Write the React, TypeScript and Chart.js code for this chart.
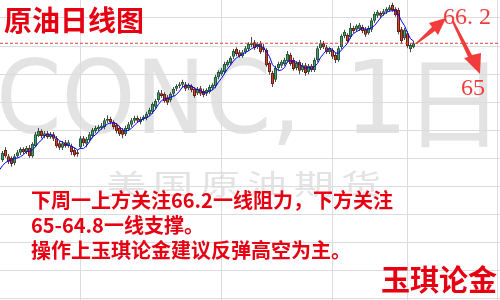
import React, { useEffect, useRef } from "react";
import { Chart, registerables } from "chart.js";

Chart.register(...registerables);

// Daily crude oil (CONC) candles, oldest first
const opens = [
  44.7, 46.5, 45.4, 45.1, 44.2, 45.4, 46.0, 46.7, 46.1, 46.9,
  45.4, 47.2, 49.0, 49.9, 49.0, 49.5, 48.8, 49.3, 48.6, 47.7,
  46.9, 47.9, 47.2, 47.2, 46.5, 46.1, 47.0, 48.6, 47.6, 48.3,
  49.0, 49.9, 50.2, 50.4, 50.6, 51.7, 52.0, 51.5, 51.0, 50.4,
  50.1, 49.3, 50.2, 51.0, 51.7, 52.2, 51.5, 52.0, 52.2, 52.9,
  53.3, 54.2, 55.4, 56.6, 56.5, 55.9, 55.4, 56.5, 57.4, 57.9,
  58.1, 58.2, 57.5, 57.9, 57.4, 56.6, 57.5, 57.0, 56.5, 56.8,
  57.5, 57.9, 59.5, 60.0, 60.4, 61.6, 62.0, 63.1, 64.5, 63.9,
  63.2, 63.9, 64.5, 65.2, 65.7, 64.8, 65.5, 64.8, 64.3, 62.0,
  60.2, 59.0, 61.1, 61.5, 61.8, 62.3, 63.4, 62.5, 61.1, 62.2,
  60.7, 61.6, 60.4, 61.5, 60.7, 62.5, 64.6, 65.5, 64.8, 63.9,
  64.3, 63.4, 62.5, 64.8, 66.8, 67.0, 66.6, 68.2, 67.9, 68.0,
  68.4, 68.0, 67.3, 67.9, 69.5, 70.4, 70.9, 70.7, 71.1, 71.4,
  72.3, 71.6, 71.4, 68.0, 66.4, 67.3, 64.5, 64.8,
];
const highs = [
  46.3, 47.0, 45.8, 45.4, 45.8, 46.5, 47.0, 47.0, 47.2, 47.4,
  47.9, 49.7, 50.4, 50.2, 49.9, 49.9, 49.7, 49.7, 49.0, 48.1,
  48.1, 48.3, 48.3, 47.6, 46.9, 46.5, 49.0, 49.0, 48.8, 49.7,
  50.4, 50.8, 51.0, 51.3, 52.2, 52.7, 52.4, 51.8, 51.3, 50.8,
  50.4, 50.8, 51.5, 52.2, 52.6, 52.6, 52.4, 52.7, 53.3, 54.0,
  55.0, 55.6, 57.2, 57.2, 56.8, 56.3, 56.8, 57.7, 58.2, 58.6,
  59.0, 58.6, 58.4, 58.2, 57.7, 57.7, 57.9, 57.4, 57.5, 58.1,
  58.4, 59.9, 60.7, 61.1, 62.2, 62.5, 63.2, 64.5, 64.8, 64.3,
  64.3, 65.0, 65.7, 66.6, 66.1, 65.7, 65.9, 65.4, 64.6, 62.3,
  60.6, 61.5, 62.2, 62.5, 62.9, 64.1, 63.8, 62.9, 62.3, 62.5,
  62.0, 62.0, 61.8, 61.8, 62.9, 65.0, 66.1, 65.9, 65.2, 64.8,
  64.6, 63.8, 65.0, 67.1, 67.9, 67.3, 69.1, 68.6, 68.9, 69.1,
  68.8, 68.4, 68.6, 70.0, 71.1, 71.4, 71.2, 71.6, 71.9, 72.3,
  72.7, 71.9, 71.8, 68.4, 68.2, 67.7, 65.5, 65.9,
];
const lows = [
  44.4, 45.1, 44.0, 43.5, 43.8, 45.1, 45.6, 45.8, 45.8, 45.1,
  45.1, 47.0, 48.8, 48.6, 48.6, 48.5, 48.5, 48.1, 46.9, 46.5,
  46.5, 46.9, 46.9, 45.6, 45.3, 45.3, 46.7, 47.2, 47.0, 47.9,
  48.6, 49.5, 49.9, 50.1, 50.2, 51.3, 51.1, 50.2, 49.5, 49.0,
  48.6, 49.0, 49.9, 50.6, 51.3, 51.3, 51.1, 51.7, 51.8, 52.6,
  52.9, 53.8, 55.0, 55.8, 54.9, 54.5, 55.0, 56.1, 57.0, 57.5,
  57.7, 57.0, 57.2, 56.8, 55.8, 56.3, 56.1, 55.9, 56.1, 56.5,
  57.2, 57.5, 59.1, 59.7, 60.0, 61.3, 61.6, 62.7, 63.2, 62.9,
  62.9, 63.6, 64.1, 64.8, 64.3, 64.5, 63.6, 63.9, 61.3, 59.9,
  57.7, 58.6, 60.7, 61.1, 61.5, 62.0, 61.5, 60.6, 60.7, 60.0,
  60.4, 59.7, 60.0, 60.4, 60.4, 62.2, 64.3, 64.5, 63.6, 63.6,
  62.7, 62.0, 62.2, 64.5, 66.4, 65.5, 66.3, 67.3, 67.5, 67.7,
  67.3, 66.6, 67.0, 67.5, 69.1, 70.0, 70.0, 70.4, 70.7, 71.1,
  71.1, 70.2, 67.1, 65.4, 66.1, 64.6, 63.9, 64.6,
];
const closes = [
  46.0, 45.4, 44.4, 44.0, 45.4, 46.1, 46.7, 46.1, 46.9, 45.4,
  47.6, 49.3, 49.9, 49.0, 49.5, 48.8, 49.3, 48.5, 47.2, 46.9,
  47.7, 47.2, 47.9, 46.1, 45.6, 45.8, 48.6, 47.7, 48.5, 49.3,
  50.1, 50.4, 50.6, 50.8, 51.8, 52.0, 51.5, 50.6, 49.9, 49.3,
  49.2, 50.4, 51.1, 51.8, 52.2, 51.7, 52.0, 52.4, 52.9, 53.6,
  54.7, 55.2, 56.8, 56.1, 55.2, 54.9, 56.5, 57.4, 57.9, 58.2,
  58.6, 57.4, 58.1, 57.2, 56.1, 57.4, 56.5, 56.3, 57.2, 57.7,
  58.1, 59.5, 60.4, 60.7, 61.8, 62.2, 62.9, 64.1, 63.6, 63.2,
  63.9, 64.6, 65.4, 65.5, 64.6, 65.4, 63.9, 64.3, 61.6, 60.4,
  58.2, 61.1, 61.8, 62.2, 62.5, 63.6, 61.8, 60.9, 62.0, 60.6,
  61.6, 60.2, 61.5, 60.7, 62.5, 64.6, 65.5, 64.8, 63.9, 64.5,
  63.1, 62.5, 64.6, 66.8, 67.5, 65.9, 68.2, 67.7, 68.6, 68.8,
  67.7, 67.0, 68.2, 69.6, 70.7, 71.1, 70.4, 71.2, 71.6, 71.9,
  71.4, 70.5, 67.5, 65.9, 67.9, 65.0, 65.2, 65.5,
];
// closes just before the first visible bar, used to seed the moving average
const priorCloses = [42.3, 42.6, 42.9, 43.3, 43.7];
const maPeriod = 5;

// bars on which the vertical grid (period separators) falls
const gridBars = [26, 73, 110, 135, 165];
const priceMin = 19.8;
const priceMax = 73.2;
const priceStep = 5;
const barMin = -0.833;
const barMax = 165.833;

const title = "原油日线图";
const noteLines = [
  "下周一上方关注66.2一线阻力，下方关注",
  "65-64.8一线支撑。",
  "操作上玉琪论金建议反弹高空为主。",
];
const brand = "玉琪论金";
const upTarget = "66.2";
const downTarget = "65";
const symbolMark = "CONC,";
const periodMark = "1";
const periodUnit = "日";
const marketMark = "美国原油期货";

const BULL = "#46a06e";
const BULL_EDGE = "#265a3d";
const BEAR = "#d0452f";
const BEAR_EDGE = "#6a2015";
const RED = "#e60012";
const ARROW = "#f23c3c";
const WATERMARK = "#e3e3e3";
const CJK = "'Noto Sans CJK SC', sans-serif";

export default function App() {
  const ref = useRef<HTMLCanvasElement>(null);

  useEffect(() => {
    document.body.style.margin = "0";
    const canvas = ref.current;
    if (!canvas) return;

    const idx = closes.map((_, i) => i);
    const series = [...priorCloses, ...closes];
    const ma: { x: number; y: number }[] = [];
    for (let i = -1; i < closes.length; i++) {
      const end = i + priorCloses.length;
      let s = 0;
      for (let k = end - maPeriod + 1; k <= end; k++) s += series[k];
      ma.push({ x: i, y: s / maPeriod });
    }
    const last = closes[closes.length - 1];
    const isUp = (i: number) => closes[i] >= opens[i];

    const backdrop = {
      id: "backdrop",
      beforeDraw(chart: Chart) {
        const { ctx } = chart;
        ctx.save();
        ctx.fillStyle = "#ffffff";
        ctx.fillRect(0, 0, chart.width, chart.height);
        ctx.fillStyle = WATERMARK;
        ctx.textBaseline = "alphabetic";
        ctx.save();
        ctx.translate(-4, 133);
        ctx.scale(0.93, 1);
        ctx.font = "101px 'DejaVu Sans'";
        ctx.fillText(symbolMark, 0, 0);
        ctx.restore();
        ctx.font = "101px 'DejaVu Sans'";
        ctx.fillText(periodMark, 344, 133);
        ctx.font = `100px ${CJK}`;
        ctx.fillText(periodUnit, 404, 140);
        ctx.save();
        ctx.translate(0, 195);
        ctx.scale(1, 0.72);
        ctx.font = `40px ${CJK}`;
        for (let k = 0; k < marketMark.length; k++) {
          ctx.fillText(marketMark[k], 106 + k * 47, 0);
        }
        ctx.restore();
        ctx.restore();
      },
    };

    const notes = {
      id: "notes",
      afterDraw(chart: Chart) {
        const { ctx } = chart;
        const xs = chart.scales.x;
        const ys = chart.scales.y;
        ctx.save();
        ctx.fillStyle = RED;
        ctx.textBaseline = "middle";
        ctx.font = `bold 28px ${CJK}`;
        ctx.fillText(title, 4, 20);
        ctx.font = `bold 20px ${CJK}`;
        noteLines.forEach((line, k) => ctx.fillText(line, 31, 200 + k * 25));
        ctx.font = `bold 29px ${CJK}`;
        ctx.textAlign = "right";
        ctx.fillText(brand, 497, 280);
        ctx.textAlign = "left";

        // target levels
        ctx.fillStyle = ARROW;
        ctx.textBaseline = "alphabetic";
        ctx.font = "24px 'Liberation Serif'";
        for (let k = 0; k < upTarget.length; k++) {
          ctx.fillText(upTarget[k], 443 + k * 12, 24);
        }
        for (let k = 0; k < downTarget.length; k++) {
          ctx.fillText(downTarget[k], 461 + k * 12, 95);
        }

        // arrows from the last bar toward each target
        const x0 = xs.getPixelForValue(closes.length - 1) + 2;
        const y0 = ys.getPixelForValue(last);
        ctx.beginPath();
        ctx.moveTo(x0, y0);
        ctx.lineTo(x0 + 1, y0 + 1);
        ctx.lineTo(435, 31);
        ctx.lineTo(438, 35);
        ctx.lineTo(446, 18);
        ctx.lineTo(429, 23);
        ctx.lineTo(432, 27);
        ctx.closePath();
        ctx.fill();

        ctx.beginPath();
        ctx.moveTo(452, 22);
        ctx.lineTo(454, 21);
        ctx.lineTo(472, 55);
        ctx.lineTo(481, 53);
        ctx.lineTo(480, 74);
        ctx.lineTo(464, 58);
        ctx.lineTo(468, 57);
        ctx.closePath();
        ctx.fill();
        ctx.restore();
      },
    };

    const chart = new Chart(canvas, {
      type: "bar",
      data: {
        datasets: [
          {
            type: "line",
            data: [
              { x: barMin, y: last },
              { x: barMax, y: last },
            ],
            borderColor: "#d8463c",
            borderWidth: 1,
            borderDash: [3, 2],
            pointRadius: 0,
          },
          {
            type: "line",
            data: ma,
            borderColor: "#0000ff",
            borderWidth: 1,
            pointRadius: 0,
            tension: 0,
          },
          {
            type: "bar",
            data: idx.map((i) => ({ x: i, y: [opens[i], closes[i]] })),
            backgroundColor: idx.map((i) => (isUp(i) ? BULL : BEAR)),
            borderColor: idx.map((i) => (isUp(i) ? BULL_EDGE : BEAR_EDGE)),
            borderWidth: 1,
            borderSkipped: false,
            barThickness: 3,
            grouped: false,
            inflateAmount: 0,
          },
          {
            type: "bar",
            data: idx.map((i) => ({ x: i, y: [lows[i], highs[i]] })),
            backgroundColor: "#4a4a4a",
            borderWidth: 0,
            barThickness: 1,
            grouped: false,
            inflateAmount: 0,
          },
        ] as any,
      },
      options: {
        animation: false,
        responsive: false,
        devicePixelRatio: 1,
        layout: { padding: 0 },
        events: [],
        plugins: {
          legend: { display: false },
          tooltip: { enabled: false },
        },
        scales: {
          x: {
            type: "linear",
            min: barMin,
            max: barMax,
            offset: false,
            border: { display: false },
            grid: { color: "#dcdcdc", lineWidth: 1, drawTicks: false, offset: false },
            ticks: { display: false },
            afterBuildTicks: (axis: any) => {
              axis.ticks = gridBars.map((v) => ({ value: v }));
            },
          },
          y: {
            type: "linear",
            min: priceMin,
            max: priceMax,
            beginAtZero: false,
            border: { display: false },
            grid: { color: "#dcdcdc", lineWidth: 1, drawTicks: false },
            ticks: { display: false, stepSize: priceStep, includeBounds: false },
          },
        },
      } as any,
      plugins: [backdrop, notes],
    });

    return () => chart.destroy();
  }, []);

  return (
    <div style={{ width: 500, height: 300 }}>
      <canvas ref={ref} width={500} height={300} style={{ display: "block" }} />
    </div>
  );
}
